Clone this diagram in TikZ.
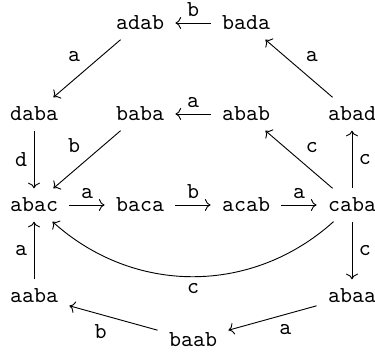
\documentclass[tikz,border=0pt]{standalone}
\usetikzlibrary{arrows.meta}

\begin{document}
\begin{tikzpicture}[
  x=0.4375pt, y=-0.4375pt, font=\ttfamily,
  wd/.style  = {inner xsep=4.8pt, inner ysep=4pt},
  ar/.style  = {-{Computer Modern Rightarrow}, thin},
  lbl/.style = {font=\ttfamily, inner sep=2.8pt},
]
  \useasboundingbox (0,0) rectangle (375,353);

  % ---- top row ----------------------------------------------
  \node[wd] (adab) at (140,  23) {adab};
  \node[wd] (bada) at (246,  23) {bada};

  % ---- second row -------------------------------------------
  \node[wd] (daba) at ( 34, 114) {daba};
  \node[wd] (baba) at (140, 114) {baba};
  \node[wd] (abab) at (246, 114) {abab};
  \node[wd] (abad) at (352, 114) {abad};

  % ---- middle row -------------------------------------------
  \node[wd] (abac) at ( 34, 205) {abac};
  \node[wd] (baca) at (140, 205) {baca};
  \node[wd] (acab) at (246, 205) {acab};
  \node[wd] (caba) at (352, 205) {caba};

  % ---- bottom -----------------------------------------------
  \node[wd] (aaba) at ( 34, 296) {aaba};
  \node[wd] (abaa) at (352, 296) {abaa};
  \node[wd] (baab) at (193, 340) {baab};

  % ---- arrows -----------------------------------------------
  \draw[ar] (bada) -- (adab) node[lbl, midway, above] {b};
  \draw[ar] (adab) -- (daba) node[lbl, midway, above left] {a};
  \draw[ar] (abad) -- (bada) node[lbl, midway, above right] {a};
  \draw[ar] (abab) -- (baba) node[lbl, midway, above] {a};

  \draw[ar] (daba) -- (abac) node[lbl, midway, left] {d};
  \draw[ar] (baba) -- (abac) node[lbl, midway, above left] {b};
  \draw[ar] (caba) -- (abab) node[lbl, midway, above right] {c};
  \draw[ar] (caba) -- (abad) node[lbl, midway, right] {c};

  \draw[ar] (abac) -- (baca) node[lbl, midway, above] {a};
  \draw[ar] (baca) -- (acab) node[lbl, midway, above] {b};
  \draw[ar] (acab) -- (caba) node[lbl, midway, above] {a};
  \draw[ar] (caba) to[bend left=42] node[lbl, midway, below] {c} (abac);

  \draw[ar] (aaba) -- (abac) node[lbl, midway, left] {a};
  \draw[ar] (caba) -- (abaa) node[lbl, midway, right] {c};
  \draw[ar] (abaa) -- (baab) node[lbl, midway, below right] {a};
  \draw[ar] (baab) -- (aaba) node[lbl, midway, below left] {b};

\end{tikzpicture}
\end{document}
